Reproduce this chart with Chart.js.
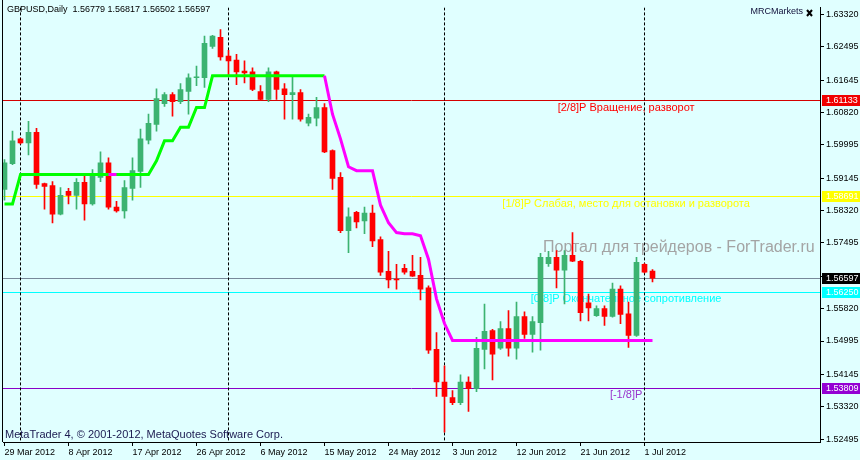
<!DOCTYPE html>
<html>
<head>
<meta charset="utf-8">
<script src="https://cdn.jsdelivr.net/npm/chart.js@4.4.0/dist/chart.umd.min.js"></script>
<style>
  html, body { margin: 0; padding: 0; background: #E0FFFF; }
</style>
</head>
<body>
<canvas id="chart" width="860" height="460"></canvas>
<script>
// GBPUSD daily, 29 Mar 2012 .. 2 Jul 2012 (one bar per trading day, Sundays included)
var opens  = [1.5886,1.5952,1.6015,1.6005,1.6032,1.5901,1.5896,1.5823,1.5881,1.5871,
              1.5904,1.5849,1.5917,1.5954,1.5841,1.5831,1.5889,1.5932,1.6012,1.6052,
              1.6105,1.6128,1.6110,1.6136,1.6171,1.6171,1.6251,1.6274,1.6226,1.6216,
              1.6188,1.6186,1.6136,1.6116,1.6186,1.6143,1.6128,1.6133,1.6055,1.6068,
              1.6095,1.5985,1.5917,1.5781,1.5828,1.5806,1.5826,1.5758,1.5677,1.5657,
              1.5685,1.5677,1.5667,1.5635,1.5478,1.5395,1.5355,1.5342,1.5395,1.5378,
              1.5478,1.5526,1.5481,1.5531,1.5481,1.5562,1.5516,1.5546,1.5697,1.5713,
              1.5680,1.5718,1.5703,1.5597,1.5564,1.5582,1.5562,1.5632,1.5569,1.5514,
              1.5695,1.56779];
var highs  = [1.5962,1.6035,1.6017,1.6060,1.6042,1.5902,1.5906,1.5891,1.5889,1.5914,
              1.5927,1.5937,1.5982,1.5967,1.5856,1.5909,1.5967,1.6040,1.6078,1.6143,
              1.6133,1.6133,1.6156,1.6181,1.6201,1.6277,1.6279,1.6294,1.6241,1.6231,
              1.6214,1.6196,1.6151,1.6196,1.6188,1.6156,1.6176,1.6141,1.6078,1.6121,
              1.6105,1.5987,1.5929,1.5839,1.5830,1.5841,1.5846,1.5765,1.5728,1.5695,
              1.5695,1.5718,1.5713,1.5640,1.5521,1.5436,1.5373,1.5413,1.5408,1.5509,
              1.5594,1.5529,1.5549,1.5577,1.5599,1.5574,1.5562,1.5723,1.5728,1.5730,
              1.5730,1.5776,1.5705,1.5619,1.5589,1.5589,1.5647,1.5640,1.5599,1.5713,
              1.5697,1.56817];
var lows   = [1.5859,1.5949,1.6002,1.5974,1.5889,1.5836,1.5801,1.5821,1.5849,1.5836,
              1.5808,1.5846,1.5906,1.5836,1.5828,1.5813,1.5859,1.5891,1.6002,1.6035,
              1.6098,1.6073,1.6105,1.6078,1.6151,1.6146,1.6246,1.6216,1.6178,1.6153,
              1.6158,1.6138,1.6114,1.6110,1.6116,1.6065,1.6065,1.6060,1.6048,1.6048,
              1.5980,1.5886,1.5776,1.5725,1.5788,1.5773,1.5740,1.5667,1.5635,1.5632,
              1.5670,1.5664,1.5604,1.5468,1.5358,1.5267,1.5337,1.5337,1.5320,1.5370,
              1.5428,1.5400,1.5478,1.5461,1.5453,1.5506,1.5471,1.5476,1.5690,1.5635,
              1.5594,1.5702,1.5551,1.5551,1.5562,1.5539,1.5560,1.5544,1.5483,1.5511,
              1.5673,1.56502];
var closes = [1.5954,1.6010,1.6005,1.6032,1.5899,1.5894,1.5823,1.5871,1.5871,1.5904,
              1.5849,1.5922,1.5954,1.5841,1.5831,1.5891,1.5934,1.6015,1.6055,1.6118,
              1.6128,1.6110,1.6141,1.6171,1.6173,1.6259,1.6277,1.6224,1.6214,1.6186,
              1.6183,1.6141,1.6116,1.6186,1.6141,1.6128,1.6133,1.6065,1.6070,1.6095,
              1.5982,1.5914,1.5781,1.5816,1.5803,1.5826,1.5755,1.5675,1.5655,1.5655,
              1.5675,1.5665,1.5632,1.5476,1.5395,1.5358,1.5342,1.5395,1.5378,1.5481,
              1.5524,1.5466,1.5531,1.5481,1.5562,1.5516,1.5549,1.5713,1.5713,1.5680,
              1.5718,1.5703,1.5572,1.5584,1.5582,1.5562,1.5632,1.5567,1.5514,1.5700,
              1.5675,1.56597];

// trailing line: green while rising, magenta while falling
var upLine = [1.5849,1.5849,1.5924,1.5924,1.5924,1.5924,1.5924,1.5924,1.5924,1.5924,
              1.5924,1.5924,1.5924,1.5924,1.5924,1.5924,1.5924,1.5924,1.5924,1.5959,
              1.6010,1.6010,1.6045,1.6045,1.6095,1.6095,1.6176,1.6176,1.6176,1.6176,
              1.6176,1.6176,1.6176,1.6176,1.6176,1.6176,1.6176,1.6176,1.6176,1.6176,
              1.6176];
var downLine = [null,null,null,null,null,null,null,null,null,null,
                null,null,null,1.5924,1.5924,null,null,null,null,null,
                null,null,null,null,null,null,null,null,null,null,
                null,null,null,null,null,null,null,null,null,null,
                1.6176,1.6078,1.6015,1.5944,1.5934,1.5934,1.5934,1.5846,1.5801,1.5776,
                1.5773,1.5773,1.5768,1.5708,1.5607,1.5544,1.5501,1.5501,1.5501,1.5501,
                1.5501,1.5501,1.5501,1.5501,1.5501,1.5501,1.5501,1.5501,1.5501,1.5501,
                1.5501,1.5501,1.5501,1.5501,1.5501,1.5501,1.5501,1.5501,1.5501,1.5501,
                1.5501,1.5501];

var dateTickIdx = [0, 8, 16, 24, 32, 40, 48, 56, 64, 72, 80];
var dateTickLabels = ['29 Mar 2012', '8 Apr 2012', '17 Apr 2012', '26 Apr 2012', '6 May 2012',
                      '15 May 2012', '24 May 2012', '3 Jun 2012', '12 Jun 2012', '21 Jun 2012', '1 Jul 2012'];
var monthStartIdx = [2, 28, 55, 80];
var priceTicks = [1.63320, 1.62495, 1.61645, 1.60820, 1.59995, 1.59145, 1.58320,
                  1.57495, 1.56645, 1.55820, 1.54995, 1.54145, 1.53320, 1.52495];

var levelPrices = [1.61133, 1.58691, 1.56250, 1.53809];
var levelTexts  = ['[2/8]P Вращение, разворот',
                   '[1/8]P Слабая, место для остановки и разворота',
                   '[0/8]P Окончательное сопротивление',
                   '[-1/8]P'];
var levelLineColors = ['#D40000', '#FFFF00', '#00FFFF', '#8A00C8'];
var levelTextColors = ['#FF0000', '#FFFF00', '#00FFFF', '#9932CC'];
var levelBoxColors  = ['#F00000', '#FFFF00', '#00FFFF', '#9400D3'];
var lastPrice = 1.56597;

var AXFONT = '"Liberation Sans", Arial, sans-serif';
var UP = '#3CB371', DOWN = '#FF0000';

var barIdx = opens.map(function (o, i) { return i; });
var candleColors = opens.map(function (o, i) { return closes[i] >= o ? UP : DOWN; });

var mt4Decor = {
  id: 'mt4Decor',
  beforeDraw: function (chart) {
    var ctx = chart.ctx;
    ctx.save();
    ctx.fillStyle = '#E0FFFF';
    ctx.fillRect(0, 0, chart.width, chart.height);
    ctx.restore();
  },
  beforeDatasetsDraw: function (chart) {
    var ctx = chart.ctx, a = chart.chartArea, x = chart.scales.x, y = chart.scales.y;
    ctx.save();
    ctx.beginPath();
    ctx.rect(a.left, a.top, a.right - a.left, a.bottom - a.top);
    ctx.clip();

    // watermark label
    ctx.font = '16px ' + AXFONT;
    ctx.fillStyle = '#A4A4A4';
    ctx.textAlign = 'left';
    ctx.textBaseline = 'middle';
    ctx.fillText('Портал для трейдеров - ForTrader.ru', a.right - 277, a.top + 240);

    // level lines
    ctx.lineWidth = 1;
    levelPrices.forEach(function (p, k) {
      var py = Math.round(y.getPixelForValue(p)) + 0.5;
      ctx.strokeStyle = levelLineColors[k];
      ctx.beginPath(); ctx.moveTo(a.left, py); ctx.lineTo(a.right, py); ctx.stroke();
    });
    var ly = Math.round(y.getPixelForValue(lastPrice)) + 0.5;
    ctx.strokeStyle = '#778899';
    ctx.beginPath(); ctx.moveTo(a.left, ly); ctx.lineTo(a.right, ly); ctx.stroke();

    // level texts
    ctx.font = '11px ' + AXFONT;
    ctx.textAlign = 'center';
    ctx.textBaseline = 'top';
    levelPrices.forEach(function (p, k) {
      ctx.fillStyle = levelTextColors[k];
      ctx.fillText(levelTexts[k], x.getPixelForValue(77.7), y.getPixelForValue(p) + 2);
    });

    // month separators
    ctx.strokeStyle = '#000';
    ctx.setLineDash([3, 2]);
    monthStartIdx.forEach(function (i) {
      var px = Math.round(x.getPixelForValue(i) - 0.5) + 0.5;
      ctx.beginPath(); ctx.moveTo(px, a.top); ctx.lineTo(px, a.bottom); ctx.stroke();
    });
    ctx.restore();
  },
  afterDraw: function (chart) {
    var ctx = chart.ctx, a = chart.chartArea, y = chart.scales.y;
    ctx.save();
    // left frame
    ctx.strokeStyle = '#000';
    ctx.lineWidth = 1;
    ctx.beginPath(); ctx.moveTo(a.left - 0.5, 0); ctx.lineTo(a.left - 0.5, a.bottom); ctx.stroke();

    // price boxes on the right axis
    ctx.font = '9px ' + AXFONT;
    ctx.textAlign = 'left';
    ctx.textBaseline = 'middle';
    function box(p, fill) {
      var py = Math.round(y.getPixelForValue(p));
      ctx.fillStyle = fill;
      ctx.fillRect(a.right + 2, py - 5, chart.width - a.right - 2, 11);
      ctx.fillStyle = '#FFFFFF';
      ctx.fillText(p.toFixed(5), a.right + 6, py + 0.5);
    }
    levelPrices.forEach(function (p, k) { box(p, levelBoxColors[k]); });
    box(lastPrice, '#000000');

    // chart captions
    ctx.fillStyle = '#000';
    ctx.fillText('GBPUSD,Daily  1.56779 1.56817 1.56502 1.56597', a.left + 4, 10);
    ctx.fillStyle = '#10103A';
    ctx.textAlign = 'right';
    ctx.fillText('MRCMarkets', a.right - 17, 12);
    ctx.strokeStyle = '#000';
    ctx.lineWidth = 2;
    ctx.beginPath();
    ctx.moveTo(a.right - 13, 10); ctx.lineTo(a.right - 8, 16);
    ctx.moveTo(a.right - 8, 10); ctx.lineTo(a.right - 13, 16);
    ctx.stroke();
    ctx.textAlign = 'left';
    ctx.fillStyle = '#1A1A50';
    ctx.font = '11px ' + AXFONT;
    ctx.fillText('MetaTrader 4, \u00A9 2001-2012, MetaQuotes Software Corp.', a.left + 2, a.bottom - 7);
    ctx.restore();
  }
};

new Chart(document.getElementById('chart'), {
  type: 'line',
  data: {
    datasets: [
      {
        type: 'line', label: 'down', order: 0,
        data: downLine.map(function (v, i) { return { x: i, y: v }; }),
        borderColor: '#FF00FF', borderWidth: 3, pointRadius: 0, tension: 0, spanGaps: false
      },
      {
        type: 'line', label: 'up', order: 1,
        data: upLine.map(function (v, i) { return { x: i, y: v }; }),
        borderColor: '#00FF00', borderWidth: 3, pointRadius: 0, tension: 0
      },
      {
        type: 'bar', label: 'body', order: 2, grouped: false,
        data: barIdx.map(function (i) { return { x: i, y: [opens[i], closes[i]] }; }),
        backgroundColor: candleColors, borderWidth: 0, barThickness: 5, minBarLength: 1
      },
      {
        type: 'bar', label: 'wick', order: 3, grouped: false,
        data: barIdx.map(function (i) { return { x: i, y: [lows[i], highs[i]] }; }),
        backgroundColor: candleColors, borderWidth: 0, barThickness: 1
      }
    ]
  },
  options: {
    responsive: false,
    animation: false,
    devicePixelRatio: 1,
    layout: { padding: { left: 3, top: 2, right: 0, bottom: 0 } },
    plugins: { legend: { display: false }, tooltip: { enabled: false } },
    scales: {
      x: {
        type: 'linear', min: -0.1875, max: 101.9375, offset: false,
        grid: { drawOnChartArea: false, tickLength: 4, color: '#000', offset: false },
        border: { display: true, color: '#000' },
        ticks: {
          align: 'start', autoSkip: false, maxRotation: 0, padding: 1, color: '#000',
          font: { family: AXFONT, size: 9 },
          callback: function (v, k) { return dateTickLabels[k]; }
        },
        afterBuildTicks: function (s) { s.ticks = dateTickIdx.map(function (v) { return { value: v }; }); },
        afterFit: function (s) { s.height = 18; }
      },
      y: {
        type: 'linear', position: 'right', min: 1.52419, max: 1.63504,
        grid: { drawOnChartArea: false, tickLength: 4, color: '#000' },
        border: { display: true, color: '#000' },
        ticks: {
          autoSkip: false, padding: 2, color: '#000',
          font: { family: AXFONT, size: 9 },
          callback: function (v) { return Number(v).toFixed(5); }
        },
        afterBuildTicks: function (s) { s.ticks = priceTicks.map(function (v) { return { value: v }; }); },
        afterFit: function (s) { s.width = 40; }
      }
    }
  },
  plugins: [mt4Decor]
});
</script>
</body>
</html>
